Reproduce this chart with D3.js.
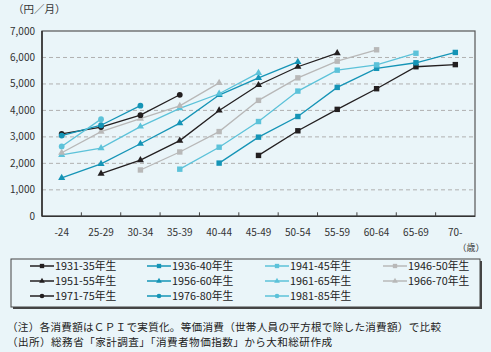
<!DOCTYPE html>
<html><head><meta charset="utf-8">
<script src="https://cdn.jsdelivr.net/npm/d3@7"></script>
<style>
html,body{margin:0;padding:0;background:#eaf5f9;}
svg{display:block;font-family:"Noto Sans CJK JP","Noto Sans",sans-serif;}
</style></head><body>
<svg id="c" width="491" height="352"></svg>
<script>
const categories = ["-24","25-29","30-34","35-39","40-44","45-49","50-54","55-59","60-64","65-69","70-"];
const yTicks = [0,1000,2000,3000,4000,5000,6000,7000];
// series: start index into categories, values
const s1931 = {name:"1931-35年生", start:5, values:[2300,3230,4040,4820,5650,5730]};
const s1936 = {name:"1936-40年生", start:4, values:[2010,2990,3770,4870,5590,5800,6190]};
const s1941 = {name:"1941-45年生", start:3, values:[1780,2610,3580,4730,5520,5720,6160]};
const s1946 = {name:"1946-50年生", start:2, values:[1750,2430,3200,4380,5230,5860,6290]};
const s1951 = {name:"1951-55年生", start:1, values:[1610,2120,2860,4000,4960,5650,6160]};
const s1956 = {name:"1956-60年生", start:0, values:[1450,1980,2740,3520,4580,5230,5830]};
const s1961 = {name:"1961-65年生", start:0, values:[2320,2575,3390,4080,4630,5420]};
const s1966 = {name:"1966-70年生", start:0, values:[2400,3200,3690,4170,5040]};
const s1971 = {name:"1971-75年生", start:0, values:[3110,3370,3820,4590]};
const s1976 = {name:"1976-80年生", start:0, values:[3050,3440,4180]};
const s1981 = {name:"1981-85年生", start:0, values:[2640,3670]};

const BLACK="#231f20", TEAL="#1594b6", LTEAL="#5cc2d9", GRAY="#b8b8b8";
const series = [
  {d:s1931,color:BLACK,shape:"square"},{d:s1936,color:TEAL,shape:"square"},{d:s1941,color:LTEAL,shape:"square"},{d:s1946,color:GRAY,shape:"square"},
  {d:s1951,color:BLACK,shape:"triangle"},{d:s1956,color:TEAL,shape:"triangle"},{d:s1961,color:LTEAL,shape:"triangle"},{d:s1966,color:GRAY,shape:"triangle"},
  {d:s1971,color:BLACK,shape:"circle"},{d:s1976,color:TEAL,shape:"circle"},{d:s1981,color:LTEAL,shape:"circle"}
];

const svg = d3.select("#c");
const L=42,R=475,T=31,B=216.3;
const x = d3.scalePoint().domain(categories).range([L,R]).padding(0.5);
const xb = d3.scaleBand().domain(categories).range([L,R]);
const y = d3.scaleLinear().domain([0,7000]).range([B,T]);

svg.append("text").attr("x",13).attr("y",13).attr("font-size",10.5).attr("fill","#333").text("（円／月）");

// grid
svg.append("g").selectAll("line").data(yTicks.filter(v=>v>0&&v<7000)).join("line")
  .attr("x1",L).attr("x2",R).attr("y1",d=>y(d)).attr("y2",d=>y(d))
  .attr("stroke","#b0b0b0").attr("stroke-width",1).attr("stroke-dasharray","4,3");

// frame
svg.append("rect").attr("x",L).attr("y",T).attr("width",R-L).attr("height",B-T)
  .attr("fill","none").attr("stroke","#555").attr("stroke-width",1.2);
svg.append("line").attr("x1",L).attr("x2",L).attr("y1",T).attr("y2",B).attr("stroke","#333").attr("stroke-width",1.6);
svg.append("line").attr("x1",L).attr("x2",R).attr("y1",B).attr("y2",B).attr("stroke","#333").attr("stroke-width",1.6);

// y labels
svg.append("g").selectAll("text").data(yTicks).join("text")
  .attr("x",35).attr("y",d=>y(d)+3.5).attr("text-anchor","end").attr("font-size",10).attr("fill","#333")
  .text(d=>d3.format(",")(d));

// x ticks (inward between categories)
svg.append("g").selectAll("line").data(categories.slice(1)).join("line")
  .attr("x1",d=>xb(d)).attr("x2",d=>xb(d)).attr("y1",B).attr("y2",B-4)
  .attr("stroke","#444").attr("stroke-width",1);
svg.append("g").selectAll("text").data(categories).join("text")
  .attr("x",d=>x(d)).attr("y",236).attr("text-anchor","middle").attr("font-size",10).attr("fill","#333").text(d=>d);
svg.append("text").attr("x",471).attr("y",251).attr("text-anchor","middle").attr("font-size",9).attr("fill","#333").text("（歳）");

function marker(g, shape, color, cx, cy, sc){
  sc = sc||1;
  if(shape==="square") g.append("rect").attr("x",cx-2.7*sc).attr("y",cy-2.7*sc).attr("width",5.4*sc).attr("height",5.4*sc).attr("fill",color);
  else if(shape==="triangle") g.append("path").attr("d",d3.symbol(d3.symbolTriangle, 22*sc*sc)()).attr("transform",`translate(${cx},${cy})`).attr("fill",color);
  else g.append("circle").attr("cx",cx).attr("cy",cy).attr("r",2.9*sc).attr("fill",color);
}

const line = d3.line().x(d=>x(d.c)).y(d=>y(d.v));
const plotG = svg.append("g");
series.forEach(s=>{
  const pts = s.d.values.map((v,i)=>({c:categories[s.d.start+i], v}));
  plotG.append("path").datum(pts).attr("d",line).attr("fill","none").attr("stroke",s.color).attr("stroke-width",1.3);
  const g = plotG.append("g");
  pts.forEach(p=>marker(g,s.shape,s.color,x(p.c),y(p.v)));
});

// legend
const lg = svg.append("g");
lg.append("rect").attr("x",13).attr("y",261).attr("width",469).attr("height",48).attr("fill","#444");
lg.append("rect").attr("x",11).attr("y",259).attr("width",469).attr("height",48).attr("fill","#eaf5f9").attr("stroke","#444").attr("stroke-width",1);
const colX=[30,147,265,383], rowY=[266,281,296];
series.forEach((s,i)=>{
  const cx = colX[i%4], cy = rowY[Math.floor(i/4)];
  lg.append("line").attr("x1",cx).attr("x2",cx+24).attr("y1",cy).attr("y2",cy).attr("stroke",s.color).attr("stroke-width",1.5);
  marker(lg,s.shape,s.color,cx+12,cy,0.8);
  lg.append("text").attr("x",cx+25).attr("y",cy+4).attr("font-size",10.8).attr("fill","#222").text(s.d.name);
});

svg.append("text").attr("x",7).attr("y",331).attr("font-size",10.6).attr("fill","#222")
  .attr("textLength",434).attr("lengthAdjust","spacing")
  .text("（注）各消費額はＣＰＩで実質化。等価消費（世帯人員の平方根で除した消費額）で比較");
svg.append("text").attr("x",7).attr("y",346).attr("font-size",10.6).attr("fill","#222")
  .attr("textLength",325).attr("lengthAdjust","spacing")
  .text("（出所）総務省「家計調査」「消費者物価指数」から大和総研作成");
</script>
</body></html>
